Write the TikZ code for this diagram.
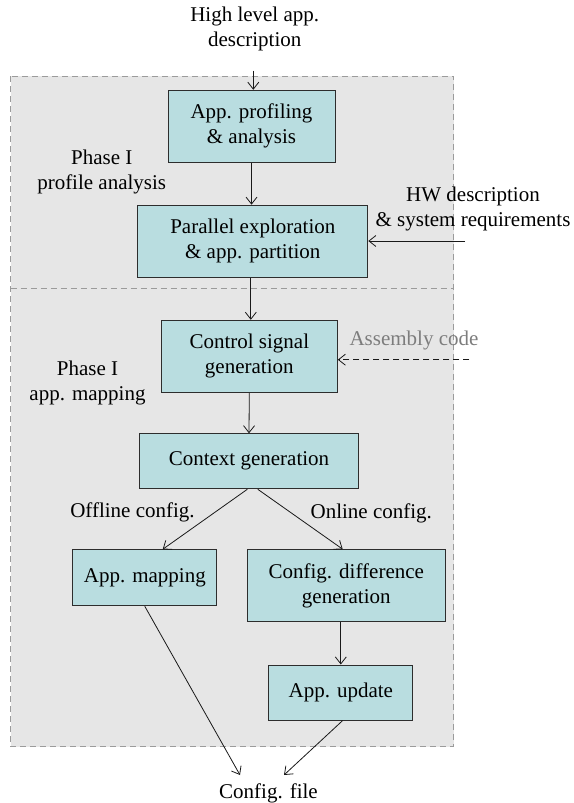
\documentclass[tikz,border=0pt]{standalone}
\usepackage{fontspec}
\setmainfont{Liberation Serif}
\usetikzlibrary{arrows.meta,calc}
\definecolor{boxfill}{RGB}{185,221,224}
\definecolor{phasebg}{RGB}{230,230,230}
\definecolor{phaseedge}{RGB}{155,155,155}
\definecolor{boxedge}{RGB}{45,45,45}
\definecolor{softtext}{RGB}{125,125,125}
\tikzset{
  txt/.style={font=\fontsize{21}{25}\selectfont, align=center, inner sep=0pt},
  stage/.style={txt, draw=boxedge, line width=1pt, fill=boxfill},
  arr/.style={-{Straight Barb[length=7pt,width=11pt]}, line width=0.8pt, draw=black!90},
  phaseline/.style={draw=phaseedge, line width=0.8pt, dash pattern=on 6pt off 4pt}
}
\begin{document}
\begin{tikzpicture}[x=1pt,y=-1pt]
\useasboundingbox (0,0) rectangle (573,803);

% phase background
\fill[phasebg] (10.7,76.3) rectangle (453.7,746.7);
\draw[phaseline] (10.7,76.3) rectangle (453.7,746.7);
\draw[phaseline] (10.7,288) -- (453.7,288);

% stages
\node[stage, minimum width=167pt, minimum height=72pt] (prof) at (251.5,126.3) {App. profiling\\\& analysis};
\node[stage, minimum width=230pt, minimum height=72pt] (part) at (252.8,241.2) {Parallel exploration\\\& app. partition};
\node[stage, minimum width=176pt, minimum height=72pt] (ctrl) at (249.3,356.3) {Control signal\\generation};
\node[stage, minimum width=219pt, minimum height=55pt] (ctx) at (249,461.3) {Context generation};
\node[stage, minimum width=144pt, minimum height=56pt] (map) at (144.8,577.8) {App. mapping};
\node[stage, minimum width=198pt, minimum height=72pt] (diff) at (346.3,585.7) {Config. difference\\generation};
\node[stage, minimum width=144pt, minimum height=55pt] (upd) at (340.8,692.5) {App. update};

% free texts
\node[txt] (hl) at (254.7,28.5) {High level app.\\description};
\node[txt] (hw) at (473,208.5) {HW description\\\& system requirements};
\node[txt, text=softtext] (asm) at (414,340.7) {Assembly code};
\node[txt] (ph1) at (101.7,172) {Phase I\\profile analysis};
\node[txt] (ph2) at (87.5,383.3) {Phase I\\app. mapping};
\node[txt] (off) at (132.5,512.3) {Offline config.};
\node[txt] (on) at (371.3,513) {Online config.};
\node[txt] (cfg) at (268.5,793) {Config. file};

% loose arrow ends
\coordinate (hlout) at (253.3,70.7);
\coordinate (hwin) at (465,241);
\coordinate (asmin) at (469.3,359.7);
\coordinate (cfgl) at (240,775);
\coordinate (cfgr) at (284,775);

% connectors
\draw[arr] (hlout) -- (hlout |- prof.north);
\draw[arr] (prof.south) -- (prof.south |- part.north);
\draw[arr] ($(ctrl.north |- part.south)+(1.5,0)$) -- ($(ctrl.north)+(1.5,0)$);
\draw[arr] (hwin) -- (hwin -| part.east);
\draw[arr, dash pattern=on 6pt off 4pt] (asmin) -- (asmin -| ctrl.east);
\draw[arr] (ctrl.south) -- (ctx.north);
\draw[arr] ($(ctx.south)+(-1.7,0)$) -- ($(map.north)+(17.9,0)$);
\draw[arr] ($(ctx.south)+(8.8,0)$) -- ($(diff.north)+(-3.6,0)$);
\draw[arr] (upd.north |- diff.south) -- (upd.north);
\draw[arr] (map.south) -- (cfgl);
\draw[arr] ($(upd.south)+(1.9,0)$) -- (cfgr);
\end{tikzpicture}
\end{document}
